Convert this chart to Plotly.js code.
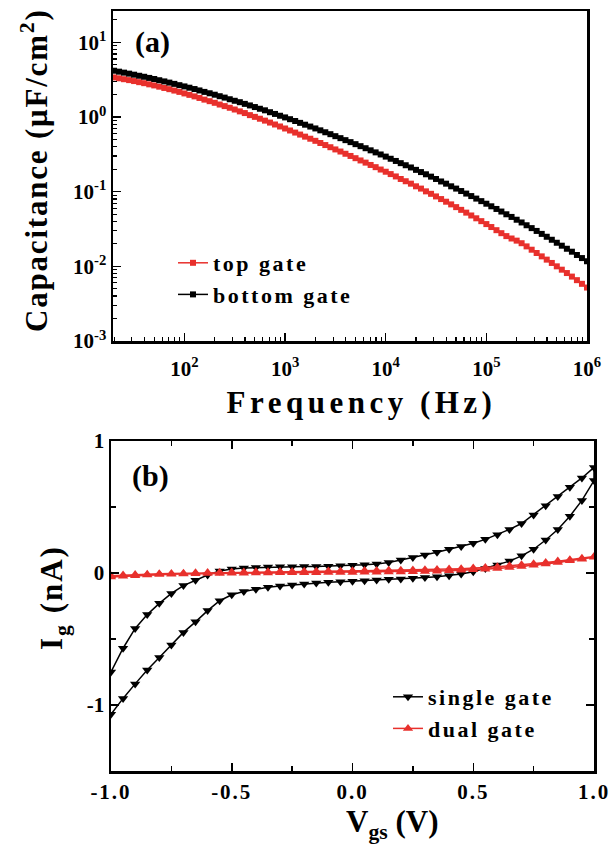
<!DOCTYPE html>
<html><head><meta charset="utf-8">
<script src="https://cdn.plot.ly/plotly-3.0.1.min.js"></script>
<style>
html,body{margin:0;padding:0;background:#fff}
#chart{width:610px;height:849px}
#chart .annotation[data-index="2"] text{letter-spacing:1.8px}
#chart .annotation[data-index="3"] text{letter-spacing:4.5px}
#chart .annotation[data-index="4"] text{letter-spacing:2px}
.legendtext, text.legendtext{letter-spacing:2.5px}
#chart .x2tick text{letter-spacing:2px}
</style>
</head><body><div id="chart"></div>
<script>
// ---- Panel (a): capacitance vs frequency ----
const freqHz = [20,22.4,25.1,28.2,31.6,35.5,39.8,44.7,50.1,56.2,63.1,70.8,79.4,89.1,100,
112,126,141,158,178,200,224,251,282,316,355,398,447,501,562,631,708,794,891,1000,
1120,1260,1410,1580,1780,2000,2240,2510,2820,3160,3550,3980,4470,5010,5620,6310,7080,7940,8910,10000,
11200,12600,14100,15800,17800,20000,22400,25100,28200,31600,35500,39800,44700,50100,56200,63100,70800,79400,89100,100000,
112000,126000,141000,158000,178000,200000,224000,251000,282000,316000,355000,398000,447000,501000,562000,631000,708000,794000,891000,1000000];
const capTopGate = [3.39,3.30,3.21,3.12,3.03,2.93,2.84,2.74,2.65,2.55,2.45,2.36,2.26,2.17,2.07,
1.98,1.89,1.80,1.71,1.63,1.55,1.47,1.40,1.33,1.26,1.19,1.13,1.06,1.005,0.949,0.895,0.843,0.794,0.747,0.702,
0.660,0.619,0.582,0.546,0.512,0.480,0.449,0.421,0.394,0.368,0.345,0.322,0.301,0.281,0.262,0.245,0.228,0.213,0.198,0.185,
0.172,0.160,0.148,0.138,0.128,0.118,0.110,0.101,0.0936,0.0864,0.0796,0.0734,0.0676,0.0621,0.0571,0.0524,0.0480,0.0440,0.0403,0.0368,
0.0336,0.0305,0.0278,0.0254,0.0236,0.0221,0.0204,0.0185,0.0167,0.0151,0.0136,0.0123,0.0111,0.0100,0.00902,0.00813,0.00729,0.00653,0.00583,0.00520];
const capBottomGate = [4.17,4.05,3.93,3.81,3.69,3.57,3.46,3.34,3.23,3.11,3.00,2.89,2.78,2.67,2.57,
2.47,2.37,2.27,2.17,2.08,1.99,1.90,1.82,1.73,1.65,1.58,1.50,1.43,1.36,1.29,1.23,1.16,1.10,1.04,0.988,
0.935,0.884,0.835,0.789,0.745,0.703,0.663,0.625,0.589,0.554,0.521,0.490,0.461,0.433,0.407,0.382,0.358,0.336,0.315,0.295,
0.276,0.258,0.241,0.226,0.211,0.196,0.183,0.171,0.159,0.148,0.137,0.128,0.118,0.110,0.102,0.0943,0.0873,0.0808,0.0747,0.0690,
0.0637,0.0587,0.0542,0.0498,0.0459,0.0421,0.0387,0.0355,0.0325,0.0298,0.0272,0.0249,0.0227,0.0207,0.0189,0.0172,0.0157,0.0142,0.0129,0.0117];
const freqTickVals = [100,1000,10000,100000,1000000];
const freqTickText = ['10<sup>2</sup>','10<sup>3</sup>','10<sup>4</sup>','10<sup>5</sup>','10<sup>6</sup>'];
const capTickVals = [0.001,0.01,0.1,1,10];
const capTickText = ['10<sup>-3</sup>','10<sup>-2</sup>','10<sup>-1</sup>','10<sup>0</sup>','10<sup>1</sup>'];

// ---- Panel (b): gate leakage vs Vgs (forward sweep -1 -> 1, then back) ----
const vgs = [-1,-0.95,-0.9,-0.85,-0.8,-0.75,-0.7,-0.65,-0.6,-0.55,-0.5,-0.45,-0.4,-0.35,-0.3,-0.25,-0.2,-0.15,-0.1,-0.05,0,
0.05,0.1,0.15,0.2,0.25,0.3,0.35,0.4,0.45,0.5,0.55,0.6,0.65,0.7,0.75,0.8,0.85,0.9,0.95,1];
const igSingleLower = [-1.07,-0.95,-0.84,-0.735,-0.64,-0.545,-0.45,-0.37,-0.285,-0.21,-0.165,-0.14,-0.123,-0.108,-0.098,-0.09,-0.083,-0.075,-0.07,-0.066,-0.062,
-0.058,-0.053,-0.048,-0.045,-0.04,-0.034,-0.028,-0.02,-0.008,0.01,0.035,0.06,0.09,0.13,0.18,0.25,0.33,0.43,0.55,0.70];
const igSingleUpper = [-0.75,-0.57,-0.42,-0.315,-0.23,-0.155,-0.095,-0.055,-0.015,0.015,0.03,0.038,0.042,0.045,0.047,0.048,0.05,0.05,0.052,0.055,0.058,
0.062,0.068,0.08,0.098,0.118,0.136,0.157,0.18,0.2,0.225,0.255,0.29,0.33,0.375,0.44,0.51,0.58,0.65,0.72,0.80];
const igDualLower = [-0.03,-0.025,-0.02,-0.015,-0.012,-0.01,-0.008,-0.006,-0.004,-0.003,-0.002,-0.001,0,0,0.001,0.001,0.002,0.002,0.003,0.003,0.004,
0.005,0.006,0.007,0.008,0.01,0.012,0.014,0.017,0.02,0.024,0.029,0.035,0.042,0.05,0.059,0.069,0.08,0.092,0.105,0.12];
const igDualUpper = [-0.02,-0.016,-0.012,-0.009,-0.006,-0.003,-0.001,0.001,0.003,0.005,0.007,0.008,0.009,0.01,0.011,0.012,0.013,0.014,0.015,0.016,0.017,
0.018,0.019,0.02,0.021,0.023,0.025,0.027,0.03,0.033,0.037,0.042,0.048,0.055,0.062,0.07,0.08,0.09,0.1,0.112,0.125];
const vgsTickVals = [-1,-0.5,0,0.5,1];
const vgsTickText = ['-1.0','-0.5','0.0','0.5','1.0'];
const igTickVals = [-1,0,1];
const igTickText = ['-1','0','1'];

const RED = '#e8302c', BLACK = '#000000';
const FONT = 'Liberation Serif, Times New Roman, Times, serif';
const loopX = vgs.concat(vgs.slice().reverse());

const traces = [
  {x: freqHz, y: capTopGate, name: 'top gate', type: 'scatter', mode: 'lines+markers',
   line: {color: RED, width: 1.5}, marker: {symbol: 'square', size: 6, color: RED},
   xaxis: 'x', yaxis: 'y', legend: 'legend'},
  {x: freqHz, y: capBottomGate, name: 'bottom gate', type: 'scatter', mode: 'lines+markers',
   line: {color: BLACK, width: 1.5}, marker: {symbol: 'square', size: 6, color: BLACK},
   xaxis: 'x', yaxis: 'y', legend: 'legend'},
  {x: loopX, y: igSingleLower.concat(igSingleUpper.slice().reverse()), name: 'single gate', type: 'scatter', mode: 'lines+markers',
   line: {color: BLACK, width: 1.5}, marker: {symbol: 'triangle-down', size: 9, color: BLACK},
   xaxis: 'x2', yaxis: 'y2', legend: 'legend2'},
  {x: loopX, y: igDualLower.concat(igDualUpper.slice().reverse()), name: 'dual gate', type: 'scatter', mode: 'lines+markers',
   line: {color: RED, width: 1.5}, marker: {symbol: 'triangle-up', size: 9, color: RED},
   xaxis: 'x2', yaxis: 'y2', legend: 'legend2'}
];

const tickFont = {family: FONT, size: 21, color: '#000', weight: 'bold'};
const baseAxis = {showline: true, linewidth: 2.5, linecolor: '#000', showgrid: false, zeroline: false,
  ticks: 'inside', ticklen: 8, tickwidth: 1.5, tickcolor: '#000', tickfont: tickFont, tickmode: 'array'};

function ann(text, px, py, size, angle, extra) {
  return Object.assign({text: text, xref: 'paper', yref: 'paper', x: px/610, y: 1-py/849,
    xanchor: 'center', yanchor: 'middle', showarrow: false, textangle: angle || 0,
    font: {family: FONT, size: size, color: '#000', weight: 'bold'}}, extra || {});
}

const layout = {
  width: 610, height: 849,
  margin: {l: 0, r: 0, t: 0, b: 0},
  paper_bgcolor: '#fff', plot_bgcolor: '#fff',
  font: {family: FONT, color: '#000', size: 21, weight: 'bold'},
  xaxis: Object.assign({}, baseAxis, {type: 'log', domain: [113/610, 587/610], range: [1.29, 6], anchor: 'y',
    tickvals: freqTickVals, ticktext: freqTickText, mirror: true, ticklabelstandoff: 7,
    minor: {ticks: 'inside', ticklen: 4, tickwidth: 1.2, tickcolor: '#000', dtick: 'D1', showgrid: false}}),
  yaxis: Object.assign({}, baseAxis, {type: 'log', domain: [1-341/849, 1-11/849], range: [-3, 1.42], anchor: 'x',
    tickvals: capTickVals, ticktext: capTickText, mirror: true,
    minor: {ticks: 'inside', ticklen: 4, tickwidth: 1.2, tickcolor: '#000', dtick: 'D1', showgrid: false}}),
  xaxis2: Object.assign({}, baseAxis, {domain: [111/610, 594/610], range: [-1, 1], anchor: 'y2',
    tickvals: vgsTickVals, ticktext: vgsTickText, mirror: 'allticks',
    minor: {ticks: 'inside', ticklen: 5, tickwidth: 1.5, tickcolor: '#000', dtick: 0.25, tick0: 0, showgrid: false}}),
  yaxis2: Object.assign({}, baseAxis, {domain: [1-771/849, 1-441/849], range: [-1.5, 1], anchor: 'x2',
    tickvals: igTickVals, ticktext: igTickText, mirror: 'allticks',
    minor: {ticks: 'inside', ticklen: 5, tickwidth: 1.5, tickcolor: '#000', dtick: 0.5, tick0: 0, showgrid: false}}),
  legend: {x: 173/610, y: 1-242/849, xanchor: 'left', yanchor: 'top', bgcolor: 'rgba(0,0,0,0)',
    font: {family: FONT, size: 22, color: '#000', weight: 'bold'}},
  legend2: {x: 388/610, y: 1-676/849, xanchor: 'left', yanchor: 'top', bgcolor: 'rgba(0,0,0,0)',
    font: {family: FONT, size: 22, color: '#000', weight: 'bold'}},
  annotations: [
    ann('(a)', 152, 42, 30),
    ann('(b)', 150, 476, 30),
    ann('Capacitance (μF/cm<sup>2</sup>)', 35, 170, 31, -90),
    ann('Frequency (Hz)', 362, 402, 31),
    ann('I<sub>g</sub> (nA)', 54, 598, 31, -90),
    ann('V<sub>gs</sub> (V)', 392, 846, 31, 0, {yanchor: 'bottom'})
  ]
};

function spaceLegends() {
  document.querySelectorAll('svg text').forEach(function (t) {
    var s = (t.textContent || '').trim();
    if (s === 'single gate' || s === 'dual gate' || s === 'top gate' || s === 'bottom gate') {
      t.setAttribute('letter-spacing', '2.5');
      t.style.letterSpacing = '2.5px';
    }
  });
  document.querySelectorAll('[clip-path]').forEach(function (el) {
    if (el.closest('.legend, .legend2, [class^="legend"]')) el.removeAttribute('clip-path');
  });
}

Plotly.newPlot('chart', traces, layout, {staticPlot: true, displayModeBar: false}).then(function () {
  spaceLegends();
  setTimeout(spaceLegends, 50);
});
</script>
</body></html>
